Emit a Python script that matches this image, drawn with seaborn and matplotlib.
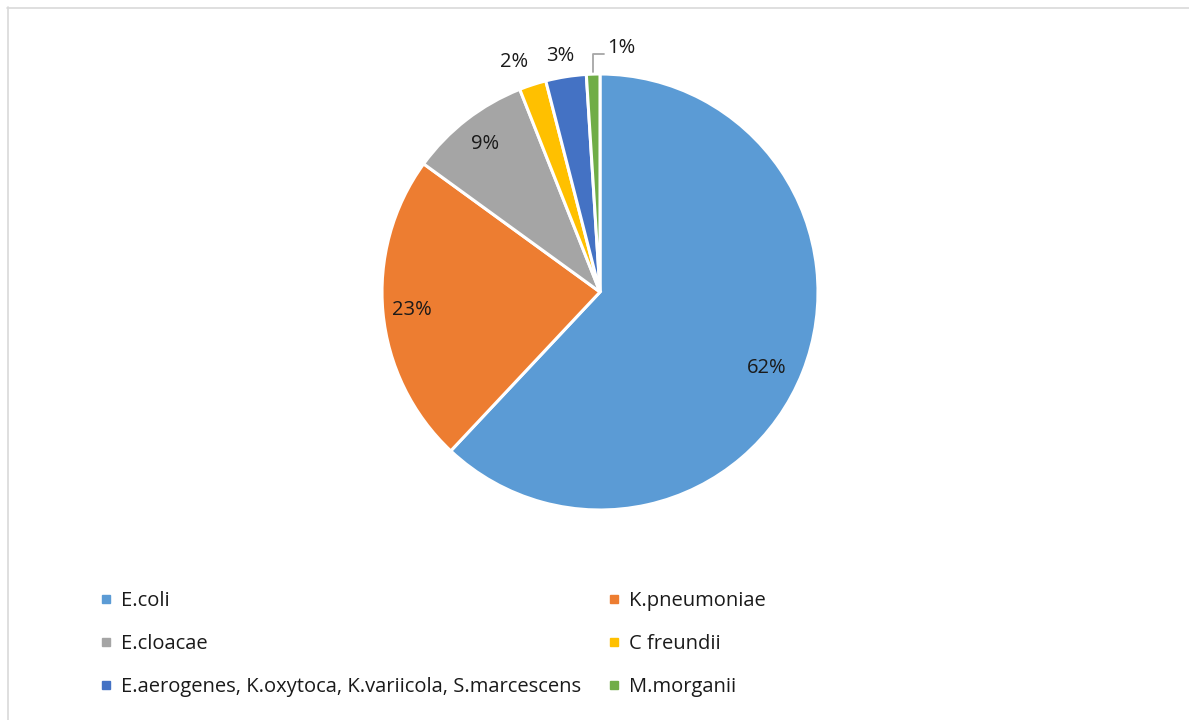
import numpy as np
import matplotlib
matplotlib.use("Agg")
import matplotlib.pyplot as plt
from matplotlib.lines import Line2D
import seaborn as sns

# Isolate distribution (share of isolates, %)
species = ["E.coli", "K.pneumoniae", "E.cloacae", "C freundii",
           "E.aerogenes, K.oxytoca, K.variicola, S.marcescens", "M.morganii"]
shares = [62, 23, 9, 2, 3, 1]
slice_colors = ["#5B9BD5", "#ED7D31", "#A5A5A5", "#FFC000", "#4472C4", "#70AD47"]

sns.set_theme(style="white")
plt.rcParams["font.family"] = ["Open Sans", "DejaVu Sans"]
palette = sns.color_palette(slice_colors)
FS = 14.5
TXT = "#1A1A1A"

W, H = 1189, 720
fig = plt.figure(figsize=(W / 100, H / 100), dpi=100)
fig.patch.set_facecolor("white")

# pie axes: centre (600, 292) px, radius 218 px
cx, cy, r = 600, 292, 218
ax = fig.add_axes([(cx - r) / W, (H - cy - r) / H, 2 * r / W, 2 * r / H])
wedges, _ = ax.pie(shares, colors=palette, startangle=90, counterclock=False,
                   wedgeprops=dict(edgecolor="white", linewidth=2.2))
ax.set_xlim(-1, 1)
ax.set_ylim(-1, 1)
ax.set_aspect("equal")
ax.axis("off")

# data labels: radial distance and small angular nudge per slice
label_radius = [0.84, 0.865, 0.86, 1.125, 1.1, None]
label_nudge = [-3.0, 0.0, 0.0, 2.4, 0.6, 0.0]
for w, val, rr, dth in zip(wedges, shares, label_radius, label_nudge):
    mid = np.deg2rad((w.theta1 + w.theta2) / 2 + dth)
    txt = f"{val}%"
    if rr is None:
        x0, y0 = np.cos(mid), np.sin(mid)
        ax.annotate(txt, xy=(x0 * 1.0, y0 * 1.0 + 0.01),
                    xytext=(x0 + 0.065, 1.075), ha="left", va="bottom",
                    fontsize=FS, color=TXT, annotation_clip=False,
                    arrowprops=dict(arrowstyle="-", color="#A6A6A6", lw=1.3,
                                    connectionstyle="angle,angleA=0,angleB=90,rad=0",
                                    relpos=(0, 0.2), shrinkA=0, shrinkB=0))
    else:
        ax.text(rr * np.cos(mid), rr * np.sin(mid), txt, ha="center", va="center",
                fontsize=FS, color=TXT)

# legend (row-major order across two columns)
handles = [Line2D([], [], marker="s", linestyle="", markersize=5.2,
                  markerfacecolor=c, markeredgecolor=c) for c in palette]
order = [0, 2, 4, 1, 3, 5]
fig.legend([handles[i] for i in order], [species[i] for i in order],
           loc="upper left", bbox_to_anchor=(100 / W, 1 - 591 / H), ncol=2,
           frameon=False, fontsize=FS, handlelength=0.6, handletextpad=0.45,
           labelspacing=1.15, columnspacing=1.33, borderaxespad=0, borderpad=0,
           labelcolor=TXT)

# chart border
fig.add_artist(Line2D([7 / W, 1], [1 - 7.5 / H] * 2, transform=fig.transFigure,
                      color="#D9D9D9", lw=1.2))
fig.add_artist(Line2D([7.5 / W] * 2, [0, 1 - 7 / H], transform=fig.transFigure,
                      color="#D9D9D9", lw=1.2))

fig.savefig("out.png", dpi=100, facecolor="white")
